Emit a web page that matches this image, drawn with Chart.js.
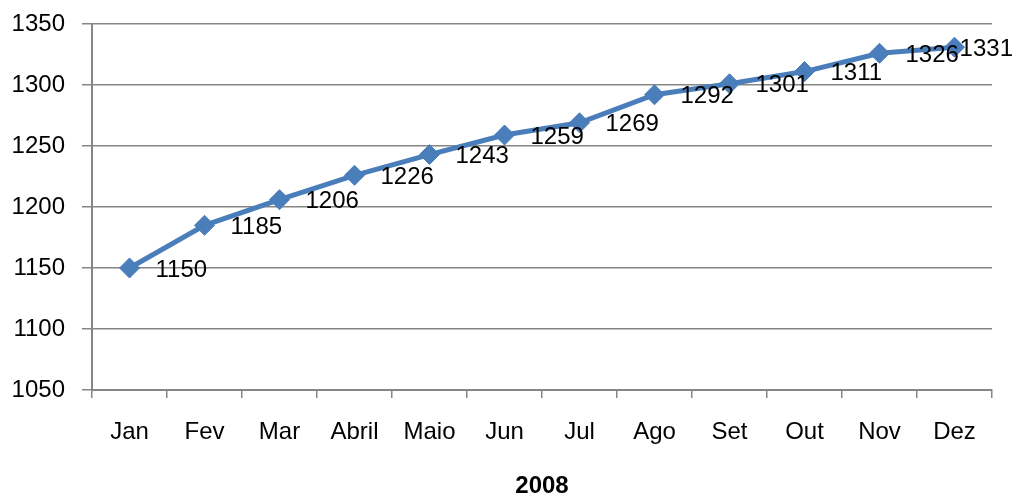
<!DOCTYPE html>
<html>
<head>
<meta charset="utf-8">
<script src="https://cdn.jsdelivr.net/npm/chart.js@4.4.0/dist/chart.umd.min.js"></script>
<style>
  html, body { margin: 0; padding: 0; background: #fff; }
  #wrap { width: 1013px; height: 498px; }
</style>
</head>
<body>
<div id="wrap"><canvas id="chart" width="1013" height="498"></canvas></div>
<script>
// data
const months = ["Jan", "Fev", "Mar", "Abril", "Maio", "Jun", "Jul", "Ago", "Set", "Out", "Nov", "Dez"];
const values = [1150, 1185, 1206, 1226, 1243, 1259, 1269, 1292, 1301, 1311, 1326, 1331];
const yearTitle = "2008";
const yMin = 1050, yMax = 1350, yStep = 50;

const FONT = "'Liberation Sans', Arial, sans-serif";

// simple value labels to the right of each point
const pointLabels = {
  id: "pointLabels",
  afterDatasetsDraw(chart) {
    const ctx = chart.ctx;
    const meta = chart.getDatasetMeta(0);
    ctx.save();
    ctx.font = "24px " + FONT;
    ctx.fillStyle = "#000";
    ctx.textAlign = "left";
    ctx.textBaseline = "middle";
    meta.data.forEach(function (pt, i) {
      const txt = String(values[i]);
      const w = ctx.measureText(txt).width;
      let x = pt.x + 26;
      if (x + w > chart.width) x = chart.width - w;
      ctx.fillText(txt, x, pt.y + 2);
    });
    ctx.restore();
  }
};

document.addEventListener("DOMContentLoaded", function () {
  const ctx = document.getElementById("chart").getContext("2d");
  new Chart(ctx, {
    type: "line",
    data: {
      labels: months,
      datasets: [
        {
          data: values,
          borderColor: "#4a7ebb",
          backgroundColor: "#4a7ebb",
          borderWidth: 5,
          pointStyle: "rectRot",
          pointRadius: 10,
          pointBorderWidth: 1,
          pointBorderColor: "#4a7ebb",
          tension: 0,
          fill: false,
          clip: false,
        },
      ],
    },
    options: {
      responsive: false,
      animation: false,
      layout: { autoPadding: false, padding: { top: 24, right: 21, left: 0, bottom: 0 } },
      plugins: {
        legend: { display: false },
        tooltip: { enabled: false },
      },
      scales: {
        x: {
          offset: true,
          grid: {
            offset: true,
            drawOnChartArea: false,
            drawTicks: true,
            tickLength: 8,
            color: "#868686",
            lineWidth: 1.5,
          },
          border: { color: "#868686", width: 2 },
          ticks: {
            color: "#000",
            font: { family: FONT, size: 24 },
            padding: 20,
            maxRotation: 0,
            autoSkip: false,
          },
          title: {
            display: true,
            text: yearTitle,
            color: "#000",
            font: { family: FONT, size: 24, weight: "bold", lineHeight: 1 },
            padding: { top: 0, bottom: 0 },
          },
          afterFit: function (scale) { scale.height = 108; },
        },
        y: {
          min: yMin,
          max: yMax,
          grid: {
            color: "#868686",
            lineWidth: 1.5,
            tickLength: 10,
          },
          border: { color: "#868686", width: 2 },
          ticks: {
            stepSize: yStep,
            color: "#000",
            font: { family: FONT, size: 24 },
            padding: 17,
            callback: function (v) { return String(v); },
          },
          afterFit: function (scale) {
            scale.width = 92;
            scale.paddingTop = 0;
            scale.paddingBottom = 0;
          },
        },
      },
    },
    plugins: [pointLabels],
  });
});
</script>
</body>
</html>
